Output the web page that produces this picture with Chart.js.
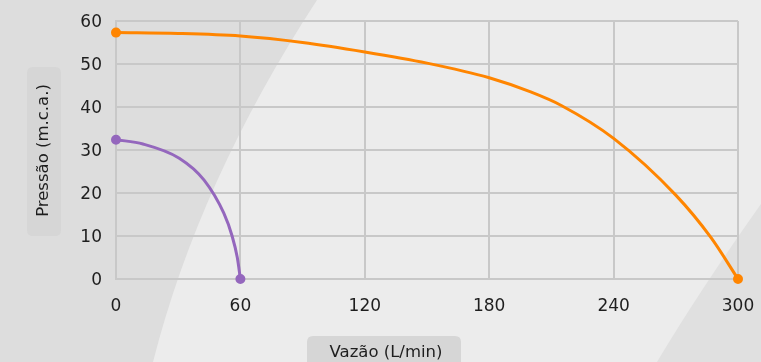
<!DOCTYPE html>
<html>
<head>
<meta charset="utf-8">
<script src="https://cdn.jsdelivr.net/npm/chart.js@4/dist/chart.umd.min.js"></script>
<style>
  html,body{margin:0;padding:0;background:#ececec;}
  #wrap{width:761px;height:362px;position:relative;}
</style>
</head>
<body>
<div id="wrap"><canvas id="c" width="761" height="362"></canvas></div>
<script>
// ---- data ----
const xTicks = [0, 60, 120, 180, 240, 300];
const yTicks = [0, 10, 20, 30, 40, 50, 60];
const orangeX = [0, 30, 60, 90, 120, 150, 180, 200, 215, 240, 270, 287, 300];
const orangeY = [57.3, 57.1, 56.5, 55.0, 52.8, 50.2, 46.8, 43.5, 40.3, 32.7, 19.5, 9.6, 0];
const purpleX = [0, 13, 30.5, 42.5, 52, 56, 58.5, 60];
const purpleY = [32.4, 31.4, 28.1, 23.0, 15.3, 10.0, 5.0, 0];
const xTitle = 'Vazão (L/min)';
const yTitle = 'Pressão (m.c.a.)';

const FONT = '"DejaVu Sans", sans-serif';

function pts(xs, ys){ return xs.map((x,i)=>({x:x, y:ys[i]})); }
function endRadii(n, r){ return Array.from({length:n},(_,i)=>(i===0||i===n-1)?r:0); }

function roundRect(ctx,x,y,w,h,r){
  ctx.beginPath();
  ctx.moveTo(x+r,y);
  ctx.lineTo(x+w-r,y); ctx.quadraticCurveTo(x+w,y,x+w,y+r);
  ctx.lineTo(x+w,y+h-r); ctx.quadraticCurveTo(x+w,y+h,x+w-r,y+h);
  ctx.lineTo(x+r,y+h); ctx.quadraticCurveTo(x,y+h,x,y+h-r);
  ctx.lineTo(x,y+r); ctx.quadraticCurveTo(x,y,x+r,y);
  ctx.closePath();
}

const bgPlugin = {
  id:'bg',
  beforeDraw(chart){
    const ctx = chart.ctx;
    const W = chart.width, H = chart.height;
    ctx.save();
    ctx.fillStyle = '#ececec';
    ctx.fillRect(0,0,W,H);
    ctx.fillStyle = '#dddddd';
    ctx.beginPath();
    ctx.moveTo(0,0); ctx.lineTo(317,0);
    ctx.quadraticCurveTo(199,181,153,H);
    ctx.lineTo(0,H); ctx.closePath(); ctx.fill();
    ctx.beginPath();
    ctx.moveTo(W,204); ctx.quadraticCurveTo(700,290,657,H); ctx.lineTo(W,H); ctx.closePath();
    ctx.fillStyle = '#e0e0e0';
    ctx.fill();
    // title boxes
    ctx.fillStyle = '#d6d6d6';
    roundRect(ctx,27,67,34,169,6); ctx.fill();
    roundRect(ctx,307,336,154,34,6); ctx.fill();
    ctx.fillStyle = '#1e1e1e';
    ctx.font = '16.5px ' + FONT;
    ctx.textAlign = 'center'; ctx.textBaseline = 'middle';
    ctx.fillText(xTitle, 386, 353);
    ctx.translate(44,150.5); ctx.rotate(-Math.PI/2);
    ctx.fillText(yTitle, 0, 0);
    ctx.restore();
  }
};

new Chart(document.getElementById('c'), {
  type:'line',
  data:{
    datasets:[
      {data:pts(orangeX,orangeY), borderColor:'#ff8500', backgroundColor:'#ff8500', borderWidth:3,
       pointRadius:endRadii(orangeX.length,3.5), pointHoverRadius:endRadii(orangeX.length,3.5),
       cubicInterpolationMode:'monotone', fill:false, clip:false},
      {data:pts(purpleX,purpleY), borderColor:'#9467bd', backgroundColor:'#9467bd', borderWidth:3,
       pointRadius:endRadii(purpleX.length,3.5), pointHoverRadius:endRadii(purpleX.length,3.5),
       cubicInterpolationMode:'monotone', fill:false, clip:false}
    ]
  },
  options:{
    responsive:false, animation:false,
    events:[],
    layout:{padding:{left:0,right:23,top:21,bottom:0}},
    plugins:{legend:{display:false}, tooltip:{enabled:false}},
    scales:{
      x:{type:'linear', min:0, max:300,
         afterBuildTicks(s){ s.ticks = xTicks.map(v=>({value:v})); },
         afterFit(s){ s.height = 83; s.paddingLeft = 0; s.paddingRight = 0; },
         grid:{color:'#c8c8c8', lineWidth:2, drawTicks:false},
         border:{color:'#c8c8c8', width:2},
         ticks:{padding:17, color:'#1e1e1e', font:{family:FONT, size:17}, maxRotation:0}
      },
      y:{type:'linear', min:0, max:60,
         afterBuildTicks(s){ s.ticks = yTicks.map(v=>({value:v})); },
         afterFit(s){ s.width = 116; s.paddingTop = 0; s.paddingBottom = 0; },
         grid:{color:'#c8c8c8', lineWidth:2, drawTicks:false},
         border:{color:'#c8c8c8', width:2},
         ticks:{padding:14, labelOffset:2, color:'#1e1e1e', font:{family:FONT, size:17}}
      }
    }
  },
  plugins:[bgPlugin]
});
</script>
</body>
</html>
